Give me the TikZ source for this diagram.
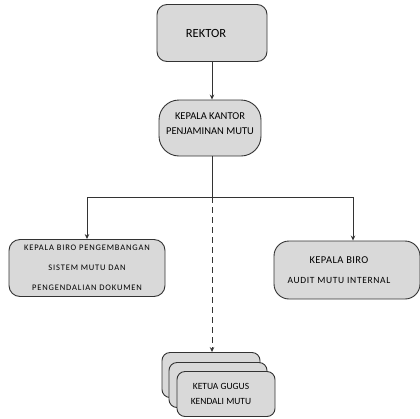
\documentclass[tikz,border=0pt]{standalone}
\usepackage{fontspec}
\setmainfont{Carlito}
\usetikzlibrary{arrows.meta}
\definecolor{boxgray}{HTML}{D9D9D9}
\definecolor{linegray}{HTML}{333333}
\tikzset{
  unitbox/.style={draw=linegray,line width=0.9pt,fill=boxgray,inner sep=0pt,
    align=center,font=\fontsize{8.5}{11}\selectfont},
  link/.style={draw=linegray,line width=0.9pt},
  linkarrow/.style={link,-{Stealth[length=5pt,width=4.5pt]}},
}
\begin{document}
\begin{tikzpicture}[x={(1pt,0pt)},y={(0pt,-1pt)}]
\useasboundingbox (0,0) rectangle (420,418);
% kotak-kotak
\node[unitbox,minimum width=110pt,minimum height=57pt,rounded corners=10pt,
  font=\fontsize{12.5}{14}\selectfont] (rektor) at (212,33) {\hspace*{-12pt}REKTOR};
\node[unitbox,minimum width=102pt,minimum height=56pt,rounded corners=20pt,
  font=\fontsize{10.5}{15}\selectfont] (kkpm) at (210,128) {KEPALA KANTOR\\PENJAMINAN MUTU\\[-7pt]};
\node[unitbox,minimum width=156pt,minimum height=57pt,rounded corners=11pt,
  font=\fontsize{8.5}{20}\selectfont\addfontfeature{LetterSpace=10}] (birosmpd) at (87,268)
  {KEPALA BIRO PENGEMBANGAN\\SISTEM MUTU DAN\\PENGENDALIAN DOKUMEN};
\node[unitbox,minimum width=146pt,minimum height=58pt,rounded corners=15pt,
  font=\fontsize{9.5}{20}\selectfont] (biroami) at (347,270)
  {\mbox{}\\[-12pt]\hspace*{-16pt}{\fontsize{10.5}{20}\selectfont\addfontfeature{LetterSpace=4}KEPALA BIRO}\\\hspace*{-16pt}{\addfontfeature{LetterSpace=7}AUDIT MUTU INTERNAL}};
\node[unitbox,minimum width=98pt,minimum height=45pt,rounded corners=8pt] (gugusa) at (211,375) {};
\node[unitbox,minimum width=98pt,minimum height=45pt,rounded corners=8pt] (gugusb) at (218,385) {};
\node[unitbox,minimum width=98pt,minimum height=45pt,rounded corners=8pt,
  font=\fontsize{9.5}{15}\selectfont] (gugusc) at (226,394) {\hspace*{-10pt}KETUA GUGUS\\\hspace*{-10pt}KENDALI MUTU};
% garis penghubung
\coordinate (cabang) at (212,197);
\coordinate (cabangkiri) at (87,197);
\coordinate (cabangkanan) at (353,197);
\draw[linkarrow] (rektor.south) -- (kkpm.north -| rektor.south);
\draw[link] (kkpm.south -| cabang) -- (cabang);
\draw[link] (cabangkiri) -- (cabangkanan);
\draw[linkarrow] (cabangkiri) -- (birosmpd.north);
\draw[linkarrow] (cabangkanan) -- (cabangkanan |- biroami.north);
\draw[linkarrow,dashed,dash pattern=on 6pt off 4pt] (cabang) -- (cabang |- gugusa.north);
\end{tikzpicture}
\end{document}
